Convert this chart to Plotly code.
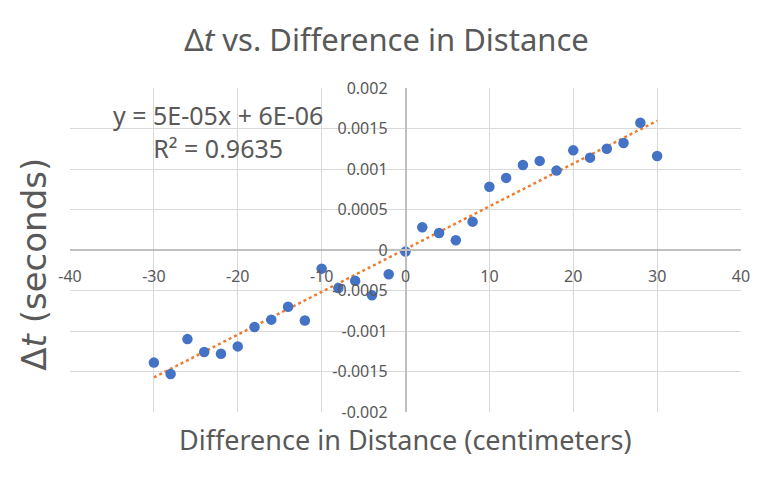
import numpy as np
import plotly.graph_objects as go

# distance difference (cm) and measured time difference (s)
distance = [-30, -28, -26, -24, -22, -20, -18, -16, -14, -12, -10, -8, -6, -4, -2, 0,
            2, 4, 6, 8, 10, 12, 14, 16, 18, 20, 22, 24, 26, 28, 30]
delta_t = [-0.00139, -0.00153, -0.00110, -0.00126, -0.00128, -0.00119, -0.00095, -0.00086,
           -0.00070, -0.00087, -0.00023, -0.00047, -0.00038, -0.00056, -0.00030, -0.00002,
           0.00028, 0.00021, 0.00012, 0.00035, 0.00078, 0.00089, 0.00105, 0.00110,
           0.00098, 0.00123, 0.00114, 0.00125, 0.00132, 0.00157, 0.00116]

x_ticks = [-40, -30, -20, -10, 0, 10, 20, 30, 40]
y_ticks = [-0.002, -0.0015, -0.001, -0.0005, 0, 0.0005, 0.001, 0.0015, 0.002]
y_tick_text = ["-0.002", "-0.0015", "-0.001", "-0.0005", "0", "0.0005", "0.001", "0.0015", "0.002"]

equation_text = "y = 5E-05x + 6E-06"
r2_text = "R² = 0.9635"

# linear trendline like excel
slope, intercept = np.polyfit(distance, delta_t, 1)
trend_x = [min(distance), max(distance)]
trend_y = [slope * v + intercept for v in trend_x]

grey = "#595959"
font = "Noto Sans"

fig = go.Figure()
fig.add_trace(go.Scatter(
    x=trend_x, y=trend_y, mode="lines",
    line=dict(color="#ED7D31", width=2.5, dash="dot"),
    hoverinfo="skip", showlegend=False,
))
fig.add_trace(go.Scatter(
    x=distance, y=delta_t, mode="markers",
    marker=dict(color="#4472C4", size=10.5),
    showlegend=False,
))

fig.update_layout(
    width=773, height=482,
    margin=dict(l=70, r=32, t=88, b=70),
    plot_bgcolor="white", paper_bgcolor="white",
    font=dict(family=font, color=grey),
    title=dict(text="Δ<i>t</i> vs. Difference in Distance", x=0.5, xanchor="center",
               y=0.917, yanchor="middle", font=dict(size=31, color=grey)),
)

fig.update_xaxes(
    range=[-40, 40], tickvals=x_ticks, ticktext=[str(v) for v in x_ticks],
    anchor="free", position=0.5,
    showgrid=True, gridcolor="#d9d9d9", gridwidth=1,
    zeroline=False, showline=True, linecolor="#bfbfbf", linewidth=1.5,
    ticks="", ticklabelstandoff=12, tickfont=dict(size=16, color=grey),
)
fig.update_yaxes(
    range=[-0.002, 0.002], tickvals=y_ticks, ticktext=y_tick_text,
    anchor="free", position=0.5,
    showgrid=True, gridcolor="#d9d9d9", gridwidth=1,
    zeroline=False, showline=True, linecolor="#bfbfbf", linewidth=1.5,
    ticks="", ticklabelstandoff=14, tickfont=dict(size=16, color=grey),
)

# axis titles and trendline label
fig.add_annotation(text="Difference in Distance (centimeters)", xref="paper", yref="paper",
                   x=0.5, y=-0.085, xanchor="center", yanchor="middle", showarrow=False,
                   font=dict(size=27, color=grey))
fig.add_annotation(text="Δ<i>t</i> (seconds)", xref="paper", yref="paper",
                   x=-0.054, y=0.457, xanchor="center", yanchor="middle", textangle=-90,
                   showarrow=False, font=dict(family="DejaVu Sans", size=34, color=grey))
fig.add_annotation(text=equation_text + "<br>" + r2_text, xref="paper", yref="paper",
                   x=0.2206, y=0.866, xanchor="center", yanchor="middle", align="center",
                   showarrow=False, font=dict(size=25, color=grey))

# page has a default body margin, drop it so the chart sits at 0,0
fig.write_html("out.html", config={"displayModeBar": False},
               post_script="document.body.style.margin='0';")
